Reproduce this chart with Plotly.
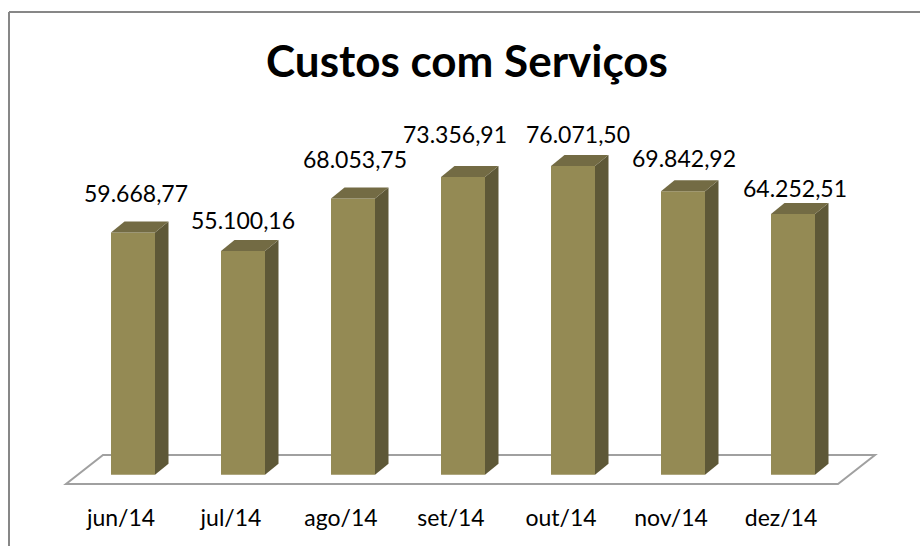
import plotly.graph_objects as go

# ---- data ----
categories = ["jun/14", "jul/14", "ago/14", "set/14", "out/14", "nov/14", "dez/14"]
values = [59668.77, 55100.16, 68053.75, 73356.91, 76071.50, 69842.92, 64252.51]
value_labels = ["59.668,77", "55.100,16", "68.053,75", "73.356,91", "76.071,50", "69.842,92", "64.252,51"]
title_text = "Custos com Serviços"

# ---- layout geometry ----
W, H = 920, 546
ML, MR, MT, MB = 56, 39, 150, 55
XR = [-0.7, 6.8]
YR = [-4000, 80000]
pw, ph = W - ML - MR, H - MT - MB
kx = pw / (XR[1] - XR[0])
ky = ph / (YR[1] - YR[0])


def dx(p):
    return p / kx


def dy(p):
    return p / ky


def paper_x(px):
    return (px - ML) / pw


def paper_y(py):
    return (H - MB - py) / ph


BAR_W = 0.4
DEPTH_X, DEPTH_Y = dx(13.5), dy(11)
FRONT, SIDE, TOP = "#948A54", "#5E5837", "#736B44"
FONT = "Lato"

# label nudges (pixels) relative to bar centre / front top
label_dx_px = [2.5, 0, 2, -8, 5, 1, 1.5]
label_dy_px = [39.5, 31.5, 40, 42.5, 31.5, 33.7, 26.4]

xs = list(range(len(categories)))
fig = go.Figure()

# front faces
fig.add_trace(go.Bar(x=xs, y=values, width=BAR_W, marker=dict(color=FRONT, line=dict(width=0)),
                     hoverinfo="skip", showlegend=False))

# side and top faces
for x, v in zip(xs, values):
    r = x + BAR_W / 2
    l = x - BAR_W / 2
    fig.add_trace(go.Scatter(
        x=[r, r + DEPTH_X, r + DEPTH_X, r, r], y=[0, DEPTH_Y, v + DEPTH_Y, v, 0],
        mode="lines", fill="toself", fillcolor=SIDE, line=dict(width=0, color=SIDE),
        hoverinfo="skip", showlegend=False))
    fig.add_trace(go.Scatter(
        x=[l, r, r + DEPTH_X, l + DEPTH_X, l], y=[v, v, v + DEPTH_Y, v + DEPTH_Y, v],
        mode="lines", fill="toself", fillcolor=TOP, line=dict(width=0, color=TOP),
        hoverinfo="skip", showlegend=False))

# floor (parallelogram under the bars)
f_front_y, f_back_y = dy(-9.2), dy(19.8)
f_x0 = XR[0] + dx(10)
f_x1 = xs[-1] + 0.5 - dx(10)
f_off = dx(37)
floor_path = (f"M {f_x0},{f_front_y} L {f_x1},{f_front_y} L {f_x1 + f_off},{f_back_y} "
              f"L {f_x0 + f_off},{f_back_y} Z")
FRAME = dict(color="#878787", width=2)
shapes = [
    dict(type="path", path=floor_path, xref="x", yref="y", layer="below",
         line=dict(color="#A0A0A0", width=2), fillcolor="white"),
    # chart frame: only the left and top edges fall inside the picture
    dict(type="line", xref="paper", yref="paper", x0=paper_x(9), x1=paper_x(9),
         y0=paper_y(12), y1=paper_y(H + 5), line=FRAME, layer="above"),
    dict(type="line", xref="paper", yref="paper", x0=paper_x(9), x1=paper_x(W + 5),
         y0=paper_y(12), y1=paper_y(12), line=FRAME, layer="above"),
]

annotations = []
for x, v, t, ddx, ddy in zip(xs, values, value_labels, label_dx_px, label_dy_px):
    annotations.append(dict(x=x + dx(ddx), y=v, text=t, showarrow=False, xref="x", yref="y",
                            xanchor="center", yanchor="middle", yshift=ddy,
                            font=dict(family=FONT, size=23, color="#000000")))

# category labels sit at the front edge of the floor, slightly left of the bars
tick_shift = dx(12)

fig.update_layout(
    width=W, height=H,
    margin=dict(l=ML, r=MR, t=MT, b=MB, pad=0),
    paper_bgcolor="white", plot_bgcolor="white",
    title=dict(text=f"<b>{title_text}</b>", x=467 / W, xanchor="center",
               y=1 - 62 / H, yanchor="middle",
               font=dict(family=FONT, size=44, color="#000000")),
    xaxis=dict(range=XR, tickmode="array", tickvals=[x - tick_shift for x in xs], ticktext=categories,
               showgrid=False, zeroline=False, showline=False, ticks="",
               ticklabelstandoff=11,
               tickfont=dict(family=FONT, size=23, color="#000000"), fixedrange=True),
    yaxis=dict(range=YR, showgrid=False, zeroline=False, showline=False,
               showticklabels=False, ticks="", fixedrange=True),
    shapes=shapes, annotations=annotations, showlegend=False,
)

# remove the default page margin so the 920x546 figure fills the window exactly
page_fix = ("var s=document.createElement('style');"
            "s.textContent='html,body{margin:0!important;padding:0!important;overflow:hidden!important;}"
            "::-webkit-scrollbar{display:none;width:0;height:0}';"
            "document.head.appendChild(s);")

fig.write_html("out.html", post_script=page_fix, config={"displayModeBar": False})
